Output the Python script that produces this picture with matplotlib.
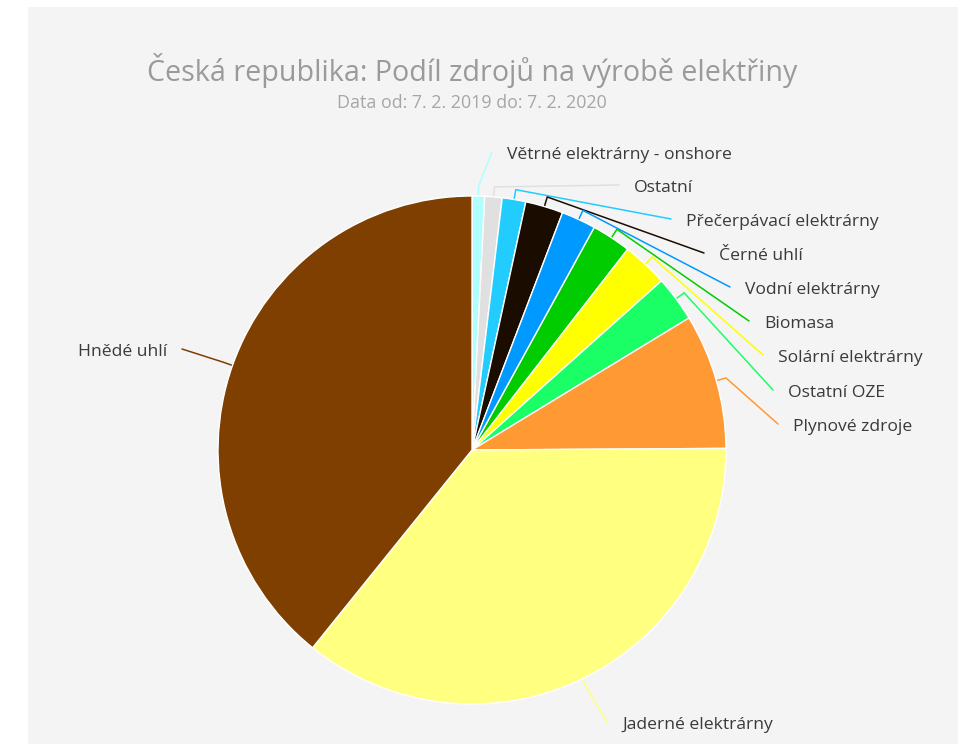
import numpy as np
import matplotlib
matplotlib.use("Agg")
import matplotlib.pyplot as plt
from matplotlib.patches import Rectangle

# Share of electricity generation by source (%), clockwise from the top
sources = [
    "Větrné elektrárny - onshore",
    "Ostatní",
    "Přečerpávací elektrárny",
    "Černé uhlí",
    "Vodní elektrárny",
    "Biomasa",
    "Solární elektrárny",
    "Ostatní OZE",
    "Plynové zdroje",
    "Jaderné elektrárny",
    "Hnědé uhlí",
]
shares = [0.8, 1.1, 1.5, 2.4, 2.2, 2.5, 2.9, 2.9, 8.6, 35.9, 39.2]
colors = [
    "#b0ffff", "#e0e0e0", "#22ccff", "#1a0d00", "#0099ff", "#00cc00",
    "#ffff00", "#1aff66", "#ff9933", "#ffff80", "#7f3f00",
]

title = "Česká republika: Podíl zdrojů na výrobě elektřiny"
subtitle = "Data od: 7. 2. 2019 do: 7. 2. 2020"

# Label anchor positions in pixel coordinates (x, y from the top), alignment
label_pos = [
    (507, 155, "left"), (634, 188, "left"), (686, 222, "left"),
    (719, 256, "left"), (745, 290, "left"), (764, 324, "left"),
    (778, 358, "left"), (788, 393, "left"), (793, 427, "left"),
    (622, 725, "left"), (167, 352, "right"),
]

W, H = 958, 744
fig = plt.figure(figsize=(W / 100, H / 100), dpi=100)
fig.patch.set_facecolor("white")
ax = fig.add_axes([0, 0, 1, 1])

cx, cy_px, R = 472, 450, 254
cy = H - cy_px

wedges, _ = ax.pie(
    shares, colors=colors, startangle=90, counterclock=False,
    center=(cx, cy), radius=R,
    wedgeprops=dict(edgecolor="white", linewidth=1.0, antialiased=True),
)
for w in wedges:
    w.set_zorder(3)

ax.set_xlim(0, W)
ax.set_ylim(0, H)
ax.set_aspect("equal")
ax.axis("off")

# Chart background panel
ax.add_patch(Rectangle((28, 0), W - 28, H - 7, facecolor="#f4f4f4",
                       edgecolor="none", zorder=0))

font = "Open Sans"
# Connectors and labels
for w, name, col, (lx, ly, ha) in zip(wedges, sources, colors, label_pos):
    mid = np.deg2rad((w.theta1 + w.theta2) / 2)
    ex, ey = cx + R * np.cos(mid), cy + R * np.sin(mid)
    bx, by = cx + (R + 10) * np.cos(mid), cy + (R + 10) * np.sin(mid)
    ly_d = H - ly
    if ha == "left":
        tx, ty = lx - 15, ly_d + 3
    else:
        tx, ty = lx + 15, ly_d + 3
    ax.plot([ex, bx, tx], [ey, by, ty], color=col, lw=1.1,
            solid_joinstyle="round", solid_capstyle="round", zorder=2)
    ax.text(lx, ly_d, name, ha=ha, va="center", fontsize=12.6,
            family=font, color="#3a3a3a", zorder=4)

ax.text(472, H - 70, title, ha="center", va="center", fontsize=20.6,
        family=font, color="#9a9a9a", zorder=4)
ax.text(472, H - 103, subtitle, ha="center", va="center", fontsize=12.9,
        family=font, color="#a6a6a6", zorder=4)

fig.savefig("out.png", dpi=100, facecolor=fig.get_facecolor())
